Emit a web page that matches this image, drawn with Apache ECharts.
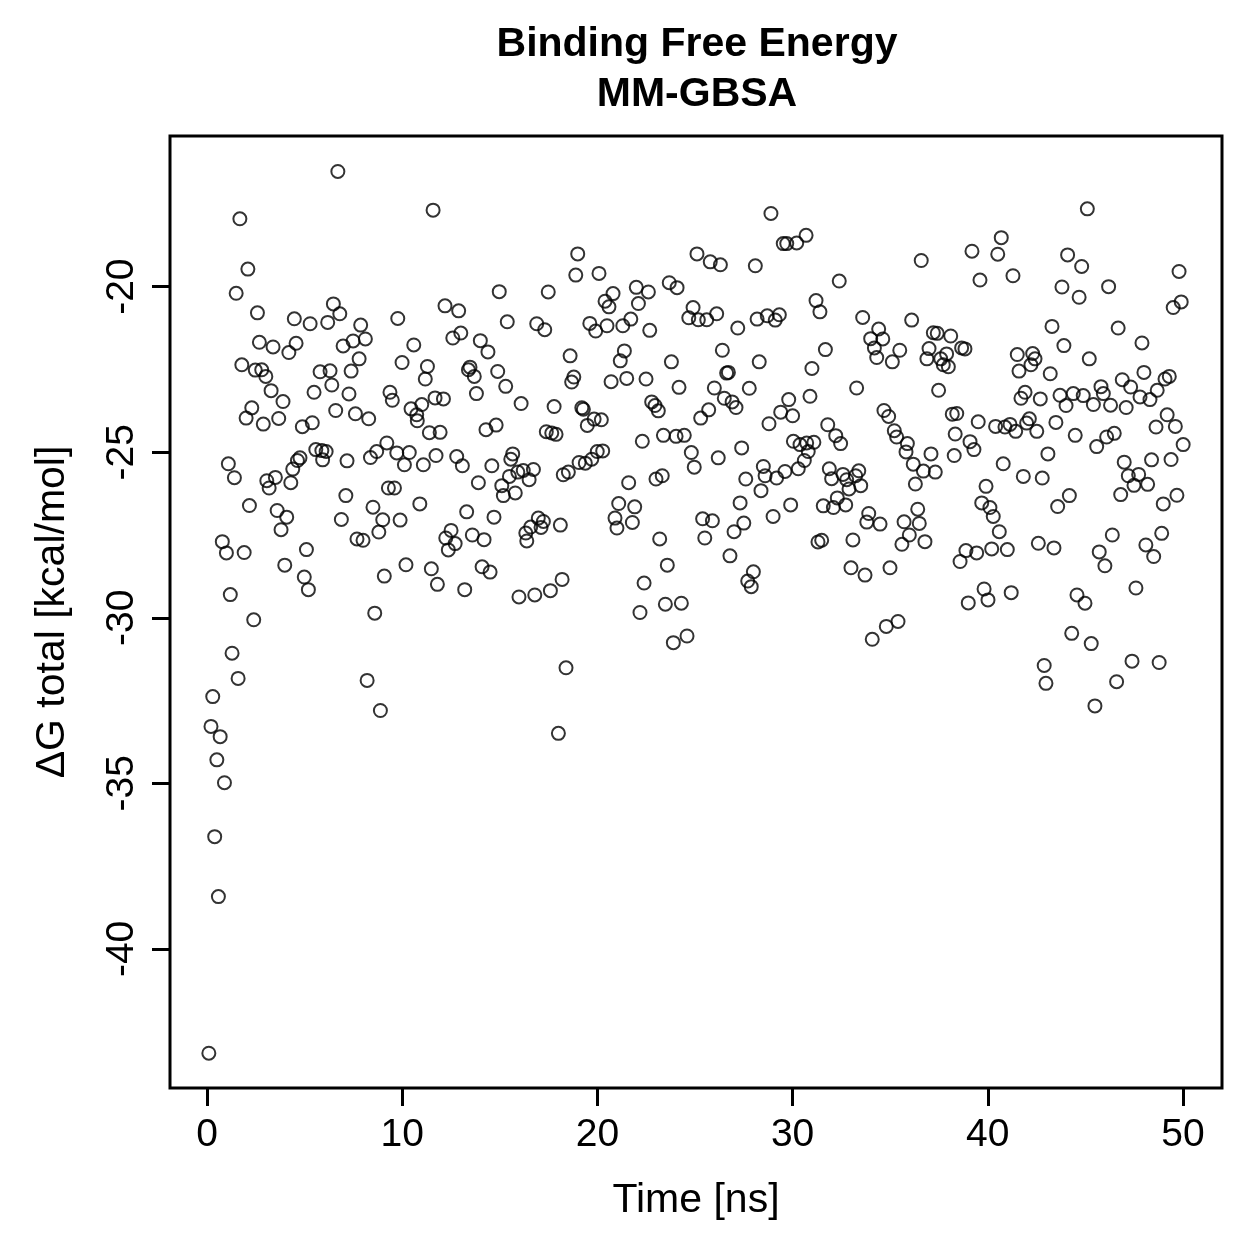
<!DOCTYPE html>
<html lang="en">
<head>
  <meta charset="utf-8">
  <title>Binding Free Energy - MM-GBSA</title>
  <script src="https://fastly.jsdelivr.net/npm/echarts@6.0.0/dist/echarts.min.js"></script>
  <style>
    * {
      margin: 0;
      padding: 0;
    }
    #chart {
      width: 1259px;
      height: 1259px;
    }
  </style>
</head>
<body>
  <div id="chart"></div>

  <script>
    // time of each frame (ns)
    var timeNs = [
      0.09, 0.20, 0.29, 0.39, 0.50, 0.58, 0.67, 0.78, 0.89, 0.99,
      1.09, 1.19, 1.28, 1.40, 1.49, 1.59, 1.68, 1.78, 1.90, 2.00,
      2.09, 2.17, 2.29, 2.39, 2.47, 2.58, 2.68, 2.80, 2.88, 3.01,
      3.06, 3.18, 3.28, 3.38, 3.50, 3.59, 3.67, 3.79, 3.89, 3.98,
      4.08, 4.19, 4.29, 4.39, 4.47, 4.56, 4.63, 4.76, 4.88, 4.98,
      5.09, 5.19, 5.28, 5.39, 5.48, 5.57, 5.79, 5.88, 5.92, 6.10,
      6.18, 6.30, 6.39, 6.47, 6.59, 6.70, 6.80, 6.88, 6.97, 7.11,
      7.17, 7.27, 7.38, 7.48, 7.60, 7.68, 7.79, 7.87, 7.99, 8.11,
      8.20, 8.28, 8.37, 8.50, 8.59, 8.69, 8.80, 8.88, 9.00, 9.08,
      9.21, 9.29, 9.37, 9.49, 9.60, 9.72, 9.77, 9.89, 9.99, 10.11,
      10.19, 10.36, 10.45, 10.59, 10.74, 10.77, 10.90, 11.00, 11.08, 11.18,
      11.29, 11.39, 11.49, 11.58, 11.68, 11.73, 11.80, 11.94, 12.11, 12.19,
      12.23, 12.36, 12.50, 12.59, 12.71, 12.79, 12.89, 13.00, 13.08, 13.20,
      13.30, 13.39, 13.47, 13.59, 13.69, 13.80, 13.90, 14.00, 14.09, 14.19,
      14.29, 14.39, 14.50, 14.59, 14.70, 14.81, 14.89, 14.97, 15.10, 15.18,
      15.30, 15.38, 15.49, 15.56, 15.66, 15.79, 15.92, 15.98, 16.09, 16.20,
      16.33, 16.38, 16.50, 16.58, 16.72, 16.79, 16.89, 16.97, 17.11, 17.23,
      17.30, 17.38, 17.48, 17.59, 17.66, 17.78, 17.88, 18.00, 18.10, 18.19,
      18.25, 18.39, 18.51, 18.60, 18.68, 18.79, 18.89, 18.99, 19.06, 19.20,
      19.28, 19.38, 19.48, 19.61, 19.71, 19.83, 19.91, 19.99, 20.08, 20.20,
      20.27, 20.39, 20.49, 20.59, 20.70, 20.80, 20.90, 21.00, 21.09, 21.17,
      21.30, 21.38, 21.50, 21.60, 21.71, 21.79, 21.91, 21.99, 22.10, 22.18,
      22.30, 22.39, 22.49, 22.61, 22.68, 22.78, 22.95, 23.00, 23.12, 23.19,
      23.32, 23.38, 23.48, 23.58, 23.68, 23.79, 23.89, 24.03, 24.08, 24.18,
      24.30, 24.45, 24.59, 24.68, 24.81, 24.90, 24.96, 25.10, 25.17, 25.29,
      25.39, 25.50, 25.60, 25.70, 25.78, 25.89, 25.99, 26.11, 26.19, 26.30,
      26.40, 26.50, 26.62, 26.71, 26.79, 26.90, 27.00, 27.10, 27.19, 27.31,
      27.39, 27.50, 27.60, 27.70, 27.78, 27.88, 27.99, 28.09, 28.18, 28.29,
      28.38, 28.50, 28.59, 28.70, 28.79, 28.89, 29.00, 29.11, 29.18, 29.32,
      29.39, 29.52, 29.61, 29.70, 29.80, 29.90, 30.00, 30.04, 30.21, 30.29,
      30.38, 30.60, 30.69, 30.72, 30.80, 30.89, 30.99, 31.09, 31.20, 31.30,
      31.40, 31.49, 31.57, 31.68, 31.80, 31.88, 32.00, 32.09, 32.21, 32.29,
      32.39, 32.46, 32.58, 32.72, 32.77, 32.89, 32.99, 33.09, 33.23, 33.28,
      33.39, 33.49, 33.59, 33.71, 33.80, 33.90, 34.00, 34.08, 34.19, 34.31,
      34.41, 34.48, 34.62, 34.68, 34.80, 34.92, 34.99, 35.11, 35.21, 35.33,
      35.40, 35.49, 35.60, 35.71, 35.81, 35.88, 35.98, 36.10, 36.18, 36.29,
      36.41, 36.49, 36.59, 36.70, 36.78, 36.88, 36.99, 37.09, 37.21, 37.31,
      37.41, 37.48, 37.59, 37.72, 37.89, 37.98, 38.10, 38.18, 38.28, 38.33,
      38.41, 38.58, 38.66, 38.83, 38.88, 39.00, 39.09, 39.19, 39.29, 39.43,
      39.51, 39.60, 39.69, 39.81, 39.91, 40.01, 40.11, 40.20, 40.28, 40.40,
      40.51, 40.59, 40.69, 40.79, 40.88, 41.00, 41.14, 41.20, 41.29, 41.43,
      41.51, 41.60, 41.70, 41.82, 41.91, 41.99, 42.13, 42.21, 42.30, 42.42,
      42.51, 42.59, 42.69, 42.79, 42.89, 42.98, 43.08, 43.20, 43.29, 43.39,
      43.49, 43.58, 43.70, 43.80, 43.90, 44.01, 44.09, 44.18, 44.30, 44.38,
      44.48, 44.57, 44.68, 44.81, 44.89, 44.98, 45.10, 45.20, 45.30, 45.41,
      45.49, 45.58, 45.71, 45.80, 45.92, 46.00, 46.09, 46.19, 46.29, 46.38,
      46.48, 46.60, 46.68, 46.81, 46.89, 46.99, 47.09, 47.20, 47.32, 47.39,
      47.49, 47.59, 47.73, 47.80, 47.90, 48.00, 48.10, 48.19, 48.31, 48.39,
      48.50, 48.62, 48.68, 48.78, 48.91, 48.99, 49.08, 49.19, 49.30, 49.39,
      49.50, 49.61, 49.69, 49.80, 49.91, 50.01
    ];

    // delta G total (kcal/mol) for each frame
    var dGTotal = [
      -43.15, -33.28, -32.38, -36.61, -34.29, -38.42, -33.59, -27.70, -34.98, -28.04,
      -25.35, -29.30, -31.07, -25.77, -20.20, -31.83, -17.95, -22.36, -28.03, -23.97,
      -19.47, -26.61, -23.66, -30.06, -22.52, -20.79, -21.68, -22.51, -24.15, -22.71,
      -25.86, -26.08, -23.14, -21.82, -25.76, -26.76, -23.98, -27.34, -23.47, -28.41,
      -26.96, -21.99, -25.92, -25.51, -20.97, -21.71, -25.25, -25.17, -24.23, -28.77,
      -27.94, -29.15, -21.12, -24.11, -23.19, -24.92, -22.57, -24.95, -25.23, -24.98,
      -21.08, -22.54, -22.97, -20.52, -23.74, -16.52, -20.82, -27.03, -21.79, -26.31,
      -25.26, -23.24, -22.55, -21.64, -23.84, -27.62, -22.18, -21.16, -27.66, -21.58,
      -31.89, -23.99, -25.16, -26.66, -29.86, -24.98, -27.41, -32.80, -27.04, -28.74,
      -24.72, -26.08, -23.19, -23.43, -26.08, -25.02, -20.96, -27.05, -22.29, -25.38,
      -28.40, -25.01, -23.69, -21.76, -23.87, -24.05, -26.56, -23.56, -25.38, -22.79,
      -22.41, -24.41, -28.52, -17.69, -23.36, -25.10, -28.99, -24.40, -23.39, -20.58,
      -27.59, -27.95, -27.36, -21.55, -27.76, -25.13, -20.73, -21.40, -25.41, -29.15,
      -26.80, -22.51, -22.43, -27.50, -22.71, -23.23, -25.92, -21.63, -28.46, -27.64,
      -24.32, -21.97, -28.62, -25.41, -26.96, -24.18, -22.56, -20.15, -26.01, -26.31,
      -23.01, -21.06, -25.73, -25.21, -25.05, -26.23, -25.60, -29.37, -23.53, -25.55,
      -27.44, -27.68, -25.83, -27.26, -25.52, -29.31, -21.12, -26.99, -27.27, -27.09,
      -21.30, -24.38, -20.16, -29.18, -24.42, -23.62, -24.46, -33.49, -27.20, -28.84,
      -25.68, -31.51, -25.60, -22.09, -22.88, -22.73, -19.65, -19.01, -25.31, -23.66,
      -23.70, -25.33, -24.19, -21.11, -25.21, -24.00, -21.34, -24.98, -19.60, -24.02,
      -24.96, -20.44, -21.18, -20.61, -22.87, -20.21, -26.99, -27.29, -26.55, -22.24,
      -21.18, -21.94, -22.77, -25.92, -20.98, -27.12, -26.65, -20.02, -20.51, -29.84,
      -24.67, -28.95, -22.79, -20.16, -21.32, -23.48, -23.59, -25.81, -23.75, -27.62,
      -25.71, -24.49, -29.59, -28.41, -19.88, -22.27, -30.75, -24.52, -20.03, -23.04,
      -29.56, -24.49, -30.55, -20.94, -25.01, -20.63, -25.45, -19.01, -21.00, -23.97,
      -27.01, -27.59, -21.00, -23.72, -19.25, -27.07, -23.06, -20.82, -25.17, -19.34,
      -21.92, -23.37, -22.61, -22.59, -28.13, -23.48, -27.40, -23.65, -21.25, -26.53,
      -24.87, -27.14, -25.81, -28.89, -23.07, -29.06, -28.61, -19.37, -20.98, -22.27,
      -26.16, -25.43, -25.71, -20.88, -24.14, -17.79, -26.94, -21.01, -25.78, -20.85,
      -23.79, -18.70, -25.58, -18.70, -23.41, -26.59, -23.90, -24.67, -18.68, -25.50,
      -24.77, -25.25, -18.45, -24.72, -24.98, -23.31, -22.47, -24.70, -20.42, -27.71,
      -20.76, -27.66, -26.62, -21.90, -24.17, -25.50, -25.80, -26.67, -24.50, -26.38,
      -19.83, -24.74, -25.67, -26.59, -25.83, -26.11, -28.49, -27.65, -25.71, -23.06,
      -25.56, -26.01, -20.93, -28.71, -27.11, -26.85, -21.57, -30.65, -21.85, -22.14,
      -21.28, -27.17, -21.58, -23.74, -30.26, -23.92, -28.49, -22.27, -24.35, -24.54,
      -30.11, -21.92, -27.78, -27.10, -24.99, -24.74, -27.50, -21.01, -25.36, -25.96,
      -26.72, -27.15, -19.21, -25.57, -27.70, -22.18, -21.87, -25.05, -21.39, -25.60,
      -21.41, -23.13, -22.18, -22.36, -22.03, -22.42, -21.49, -23.85, -25.10, -24.45,
      -23.83, -28.30, -21.85, -21.88, -27.97, -29.55, -24.68, -18.93, -24.92, -28.04,
      -24.08, -19.80, -26.53, -29.13, -26.03, -29.46, -26.67, -27.92, -26.94, -24.22,
      -19.02, -27.40, -18.52, -25.35, -24.24, -27.94, -24.16, -29.24, -19.67, -24.37,
      -22.05, -22.55, -23.37, -25.73, -23.19, -24.12, -23.99, -22.36, -22.02, -22.18,
      -24.37, -27.75, -23.39, -25.78, -31.44, -31.98, -25.05, -22.63, -21.20, -27.89,
      -24.10, -26.64, -23.28, -20.01, -21.78, -23.59, -19.04, -26.31, -30.47, -23.23,
      -24.49, -29.31, -20.32, -19.39, -23.29, -29.56, -17.65, -22.18, -30.78, -23.56,
      -32.66, -24.83, -28.01, -23.02, -23.23, -28.43, -24.54, -20.00, -23.58, -27.50,
      -24.43, -31.93, -21.25, -26.28, -22.81, -25.30, -23.65, -25.71, -23.03, -31.31,
      -26.00, -29.10, -25.67, -23.33, -21.70, -22.59, -27.80, -25.97, -23.41, -25.23,
      -28.15, -24.24, -23.13, -31.35, -27.45, -26.56, -22.79, -23.87, -22.71, -25.22,
      -20.63, -24.22, -26.30, -19.54, -20.46, -24.77
    ];

    var xTicks = [0, 10, 20, 30, 40, 50];
    var yTicks = [-40, -35, -30, -25, -20];

    var points = timeNs.map(function (t, i) {
      return [t, dGTotal[i]];
    });

    var fontName = '"Liberation Sans", Arial, Helvetica, sans-serif';

    var dom = document.getElementById('chart');
    var myChart = echarts.init(dom, null, { renderer: 'canvas' });

    var option = {
      backgroundColor: '#ffffff',
      animation: false,
      graphic: [
        {
          type: 'text',
          x: 697,
          y: 45,
          style: {
            text: 'Binding Free Energy',
            font: 'bold 41px ' + fontName,
            fill: '#000',
            align: 'center',
            verticalAlign: 'middle',
            textAlign: 'center',
            textVerticalAlign: 'middle'
          }
        },
        {
          type: 'text',
          x: 697,
          y: 95,
          style: {
            text: 'MM-GBSA',
            font: 'bold 41px ' + fontName,
            fill: '#000',
            align: 'center',
            verticalAlign: 'middle',
            textAlign: 'center',
            textVerticalAlign: 'middle'
          }
        }
      ],
      grid: {
        left: 170,
        right: 37,
        top: 136,
        bottom: 171,
        show: true,
        borderColor: '#000',
        borderWidth: 3,
        backgroundColor: 'transparent'
      },
      xAxis: {
        type: 'value',
        min: -1.9,
        max: 52.0,
        name: 'Time [ns]',
        nameLocation: 'middle',
        nameGap: 92,
        nameTextStyle: { fontFamily: fontName, fontSize: 41, color: '#000' },
        axisLine: { show: false, onZero: false },
        axisTick: {
          show: true,
          length: 18,
          customValues: xTicks,
          lineStyle: { color: '#000', width: 3 }
        },
        axisLabel: {
          customValues: xTicks,
          margin: 28,
          fontFamily: fontName,
          fontSize: 39,
          color: '#000'
        },
        splitLine: { show: false }
      },
      yAxis: {
        type: 'value',
        min: -44.2,
        max: -15.45,
        name: 'ΔG total [kcal/mol]',
        nameLocation: 'middle',
        nameRotate: 90,
        nameGap: 97,
        nameTextStyle: { fontFamily: fontName, fontSize: 41, color: '#000' },
        axisLine: { show: false, onZero: false },
        axisTick: {
          show: true,
          length: 18,
          customValues: yTicks,
          lineStyle: { color: '#000', width: 3 }
        },
        axisLabel: {
          customValues: yTicks,
          rotate: 90,
          margin: 28,
          fontFamily: fontName,
          fontSize: 39,
          color: '#000'
        },
        splitLine: { show: false }
      },
      series: [
        {
          type: 'scatter',
          data: points,
          symbol: 'circle',
          symbolSize: 13,
          itemStyle: {
            color: 'rgba(0,0,0,0)',
            borderColor: '#000',
            borderWidth: 2
          },
          emphasis: { disabled: true }
        }
      ]
    };

    myChart.setOption(option);
    window.addEventListener('resize', myChart.resize);
  </script>
</body>
</html>
